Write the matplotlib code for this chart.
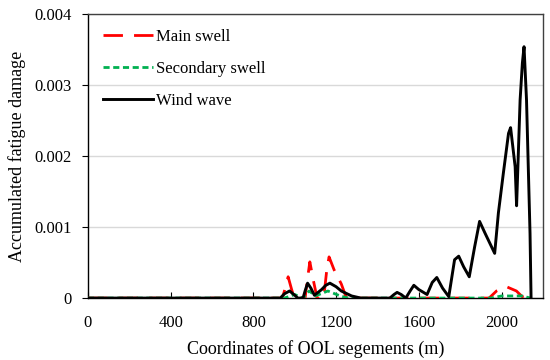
import numpy as np
import matplotlib
matplotlib.use("Agg")
import matplotlib.pyplot as plt

# ---- data ------------------------------------------------------------------
wind_x = [0, 900, 930, 950, 975, 1000, 1015, 1040, 1050, 1062, 1078, 1095,
          1130, 1150, 1170, 1200, 1225, 1275, 1320, 1460, 1480, 1495, 1515,
          1537, 1558, 1576, 1600, 1640, 1665, 1687, 1715, 1745, 1773, 1793,
          1817, 1844, 1870, 1894, 1921, 1967, 1985, 2009, 2034, 2044, 2066,
          2073, 2090, 2101, 2109, 2121, 2138, 2143]
wind_y = [0, 0, 0, 0.00006, 0.0001, 0.00004, 0, 0, 0.0001, 0.00021, 0.00014,
          0.00004, 0.00012, 0.00018, 0.00021, 0.00016, 0.0001, 0.00003, 0, 0,
          0.00005, 0.00008, 0.00005, 0, 0.0001, 0.00018, 0.00012, 0.00005,
          0.00022, 0.00029, 0.00014, 0.00002, 0.00054, 0.00059, 0.00044,
          0.0003, 0.00072, 0.00108, 0.00091, 0.00063, 0.0012, 0.00176,
          0.00232, 0.0024, 0.00185, 0.0013, 0.00279, 0.00331, 0.00354,
          0.00279, 0.00091, 0]

main_x = [0, 940, 955, 968, 985, 998, 1050, 1063, 1073, 1090, 1108, 1140,
          1155, 1166, 1190, 1225, 1250, 1940, 1976, 2024, 2072, 2100, 2140]
main_y = [0, 0, 0.00015, 0.0003, 0.00012, 0, 0, 0.0003, 0.00051, 0.00025, 0,
          0, 0.0004, 0.00058, 0.0004, 0.0002, 0, 0, 0.0001, 0.00016, 0.0001,
          0.00002, 0]

sec_x = [0, 950, 1000, 1040, 1070, 1100, 1160, 1220, 1260, 1950, 2000, 2100,
         2140]
sec_y = [0, 0, 0.00005, 0, 0.0001, 0.00003, 0.0001, 0.00003, 0, 0, 0.00003,
         0.00003, 0]

x_ticks = [0, 400, 800, 1200, 1600, 2000]
y_ticks = [0, 0.001, 0.002, 0.003, 0.004]
y_ticklabels = ["0", "0.001", "0.002", "0.003", "0.004"]

plt.rcParams["font.family"] = ["Liberation Serif", "DejaVu Serif"]

fig = plt.figure(figsize=(5.5, 3.6), dpi=100)
ax = fig.add_axes([0.16, 0.172, 0.827, 0.789])

ax.plot(main_x, main_y, color="#FF0000", lw=2.0, dashes=(7, 4),
        label="Main swell", zorder=3)
ax.plot(sec_x, sec_y, color="#00B050", lw=2.0, dashes=(2.2, 1.3),
        label="Secondary swell", zorder=4)
ax.plot(wind_x, wind_y, color="black", lw=2.1, label="Wind wave",
        solid_joinstyle="round", zorder=5)

ax.set_xlim(0, 2200)
ax.set_ylim(0, 0.004)
ax.set_xticks(x_ticks)
ax.set_yticks(y_ticks)
ax.set_yticklabels(y_ticklabels)
ax.tick_params(axis="x", direction="in", length=4, labelsize=12, pad=12)
ax.tick_params(axis="y", direction="out", length=4, labelsize=12, pad=8)
ax.grid(axis="y", color="#d9d9d9", lw=1.0)
ax.set_axisbelow(True)
for s in ax.spines.values():
    s.set_color("#404040")
    s.set_linewidth(1.0)
ax.spines["left"].set_color("black")
ax.spines["bottom"].set_color("black")

ax.set_xlabel("Coordinates of OOL segements (m)", fontsize=13, labelpad=7)
ax.set_ylabel("Accumulated fatigue damage", fontsize=13, labelpad=6)

ax.legend(loc="upper left", frameon=False, fontsize=12, handlelength=3.0,
          handletextpad=0.15, labelspacing=0.95, borderaxespad=0.5)

fig.savefig("out.png", dpi=100)
